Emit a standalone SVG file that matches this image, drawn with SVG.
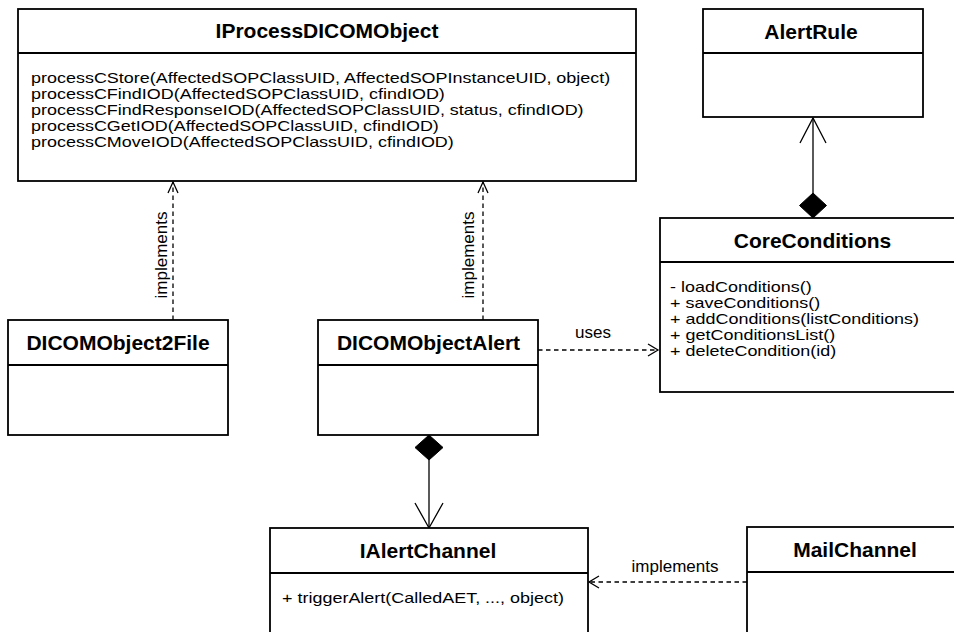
<svg xmlns="http://www.w3.org/2000/svg" width="954" height="632" viewBox="0 0 954 632">
<style>
.box{fill:#fff;stroke:#000;stroke-width:1.8}
.sep{stroke:#000;stroke-width:1.8}
.title{font-family:"Liberation Sans",Arial,sans-serif;font-weight:bold;font-size:21px;text-anchor:middle;fill:#000}
.m{font-family:"Liberation Sans",Arial,sans-serif;font-size:14.2px;fill:#000}
.lbl{font-family:"Liberation Sans",Arial,sans-serif;font-size:17px;fill:#000}
.dash{fill:none;stroke:#000;stroke-width:1.3;stroke-dasharray:4.5,3.5}
.solid{fill:none;stroke:#000;stroke-width:1.3}
.head{fill:none;stroke:#000;stroke-width:1.3}
.dia{fill:#000;stroke:#000;stroke-width:1}
</style>
<rect width="954" height="632" fill="#fff"/>
<g id="connectors">
  <path class="dash" d="M173,320 V182"/>
  <path class="head" d="M168,193 L173,182 L178,193"/>
  <text class="lbl" transform="translate(167,255) rotate(-90)" text-anchor="middle">implements</text>
  <path class="dash" d="M483,320 V182"/>
  <path class="head" d="M478,193 L483,182 L488,193"/>
  <text class="lbl" transform="translate(474,255) rotate(-90)" text-anchor="middle">implements</text>
  <path class="dash" d="M538,350 H658"/>
  <path class="head" d="M648,344 L658,350 L648,356"/>
  <text class="lbl" x="593" y="338" text-anchor="middle">uses</text>
  <path class="solid" d="M813,118 V193"/>
  <path class="head" d="M800,143 L813,118 L826,143"/>
  <path class="dia" d="M813,193 L826.5,205.5 L813,218 L799.5,205.5 Z"/>
  <path class="solid" d="M429,460 V528"/>
  <path class="head" d="M415,503 L429,528 L443,503"/>
  <path class="dia" d="M429,435 L443,447.5 L429,460 L415,447.5 Z"/>
  <path class="dash" d="M747,582 H589"/>
  <path class="head" d="M599,576 L589,582 L599,588"/>
  <text class="lbl" x="675" y="572" text-anchor="middle">implements</text>
</g>
<g id="IProcessDICOMObject">
  <rect class="box" x="18" y="9" width="618" height="172"/>
  <line class="sep" x1="18" y1="53" x2="636" y2="53"/>
  <text class="title" x="327" y="38">IProcessDICOMObject</text>
  <g transform="translate(31,0) scale(1.265,1)">
    <text class="m" x="0" y="83.5">processCStore(AffectedSOPClassUID, AffectedSOPInstanceUID, object)</text>
    <text class="m" x="0" y="99.3">processCFindIOD(AffectedSOPClassUID, cfindIOD)</text>
    <text class="m" x="0" y="115.1">processCFindResponseIOD(AffectedSOPClassUID, status, cfindIOD)</text>
    <text class="m" x="0" y="130.9">processCGetIOD(AffectedSOPClassUID, cfindIOD)</text>
    <text class="m" x="0" y="146.7">processCMoveIOD(AffectedSOPClassUID, cfindIOD)</text>
  </g>
</g>
<g id="AlertRule">
  <rect class="box" x="703" y="9" width="220" height="108"/>
  <line class="sep" x1="703" y1="53" x2="923" y2="53"/>
  <text class="title" x="811" y="38.5">AlertRule</text>
</g>
<g id="CoreConditions">
  <rect class="box" x="660" y="218" width="306" height="174"/>
  <line class="sep" x1="660" y1="262" x2="966" y2="262"/>
  <text class="title" x="812.5" y="248">CoreConditions</text>
  <g transform="translate(670,0) scale(1.265,1)">
    <text class="m" x="0" y="292.5">- loadConditions()</text>
    <text class="m" x="0" y="308.5">+ saveConditions()</text>
    <text class="m" x="0" y="324.5">+ addConditions(listConditions)</text>
    <text class="m" x="0" y="340.5">+ getConditionsList()</text>
    <text class="m" x="0" y="356.5">+ deleteCondition(id)</text>
  </g>
</g>
<g id="DICOMObject2File">
  <rect class="box" x="8" y="320" width="220" height="115"/>
  <line class="sep" x1="8" y1="365" x2="228" y2="365"/>
  <text class="title" x="118" y="349.5">DICOMObject2File</text>
</g>
<g id="DICOMObjectAlert">
  <rect class="box" x="318" y="320" width="220" height="115"/>
  <line class="sep" x1="318" y1="365" x2="538" y2="365"/>
  <text class="title" x="428.5" y="349.5">DICOMObjectAlert</text>
</g>
<g id="IAlertChannel">
  <rect class="box" x="270" y="528" width="318" height="120"/>
  <line class="sep" x1="270" y1="573" x2="588" y2="573"/>
  <text class="title" x="428" y="557.5">IAlertChannel</text>
  <g transform="translate(282,0) scale(1.265,1)">
    <text class="m" x="0" y="603">+ triggerAlert(CalledAET, ..., object)</text>
  </g>
</g>
<g id="MailChannel">
  <rect class="box" x="747" y="527" width="216" height="120"/>
  <line class="sep" x1="747" y1="572" x2="963" y2="572"/>
  <text class="title" x="855" y="556.5">MailChannel</text>
</g>
</svg>
